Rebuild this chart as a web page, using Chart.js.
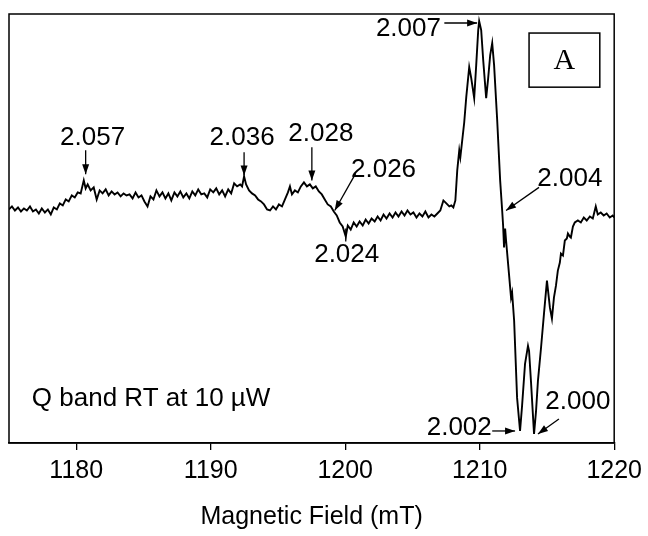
<!DOCTYPE html>
<html>
<head>
<meta charset="utf-8">
<script src="https://cdn.jsdelivr.net/npm/chart.js@4/dist/chart.umd.min.js"></script>
<style>
  html, body { margin: 0; padding: 0; background: #fff; }
  #wrap { width: 648px; height: 536px; }
</style>
</head>
<body>
<div id="wrap"><canvas id="eprChart"></canvas></div>
<script>
// magnetic field (mT) and derivative signal (arb. units)
const field = [
  1175.00, 1175.22, 1175.44, 1175.67, 1175.89, 1176.11, 1176.33, 1176.56, 1176.78, 1177.00,
  1177.22, 1177.44, 1177.67, 1177.89, 1178.11, 1178.33, 1178.56, 1178.78, 1179.00, 1179.22,
  1179.44, 1179.67, 1179.89, 1180.11, 1180.33, 1180.56, 1180.70, 1180.85, 1181.07, 1181.30,
  1181.52, 1181.74, 1181.96, 1182.19, 1182.41, 1182.63, 1182.85, 1183.07, 1183.30, 1183.52,
  1183.74, 1183.96, 1184.19, 1184.41, 1184.63, 1184.85, 1185.07, 1185.30, 1185.52, 1185.74,
  1185.96, 1186.19, 1186.41,
  1186.63, 1186.85, 1187.07, 1187.30, 1187.52, 1187.74, 1187.96, 1188.19, 1188.41, 1188.63,
  1188.85, 1189.07, 1189.30, 1189.52, 1189.74, 1189.96, 1190.19, 1190.41, 1190.63, 1190.85,
  1191.07, 1191.30, 1191.52, 1191.74, 1191.96, 1192.19, 1192.33, 1192.48, 1192.63, 1192.85,
  1193.07, 1193.30, 1193.52, 1193.74, 1193.96, 1194.19, 1194.41, 1194.63, 1194.85, 1195.07,
  1195.30, 1195.52, 1195.74, 1195.89, 1196.04, 1196.26, 1196.48, 1196.70, 1196.93, 1197.15,
  1197.37, 1197.59, 1197.81, 1198.04,
  1198.26, 1198.48, 1198.70, 1198.93, 1199.15, 1199.37, 1199.59, 1199.81, 1200.04, 1200.19,
  1200.41, 1200.63, 1200.85, 1201.07, 1201.30, 1201.52, 1201.74, 1201.96, 1202.19, 1202.41,
  1202.63, 1202.85, 1203.07, 1203.30, 1203.52, 1203.74, 1203.96, 1204.19, 1204.41, 1204.63,
  1204.85, 1205.07, 1205.30, 1205.52, 1205.74, 1205.96, 1206.19, 1206.41, 1206.63, 1206.85,
  1207.07, 1207.30, 1207.52, 1207.74, 1207.89,
  1208.04, 1208.19, 1208.33, 1208.48, 1208.56, 1208.70, 1208.85, 1209.00, 1209.22, 1209.37,
  1209.59, 1209.74, 1209.89, 1209.96, 1210.11, 1210.26, 1210.48, 1210.63, 1210.78, 1210.93,
  1211.07, 1211.30, 1211.52, 1211.67, 1211.74, 1211.81, 1211.89, 1211.96, 1212.11, 1212.33,
  1212.41, 1212.56, 1212.78, 1213.00, 1213.15, 1213.37, 1213.59, 1213.67, 1213.81, 1214.04,
  1214.19, 1214.33, 1214.56, 1214.78, 1215.00, 1215.22, 1215.37, 1215.52, 1215.67, 1215.81,
  1215.96, 1216.04, 1216.19, 1216.33, 1216.48, 1216.56, 1216.70, 1216.78, 1216.93, 1217.07,
  1217.30, 1217.52, 1217.74, 1217.96, 1218.19, 1218.41, 1218.63, 1218.78, 1219.00, 1219.22,
  1219.44, 1219.67, 1219.89, 1220.00
];
const signal = [
  1, 4, 0, 3, -1, 2, 0, 4, -1, 1,
  -3, 2, -2, 1, -4, 3, 1, 7, 5, 11,
  9, 15, 13, 18, 17, 30, 22, 26, 20, 23,
  11, 20, 17, 21, 15, 19, 16, 18, 14, 17,
  15, 16, 12, 18, 13, 15, 9, 4, 14, 11,
  20, 14, 18,
  12, 17, 10, 18, 14, 19, 13, 17, 12, 19,
  15, 21, 16, 17, 13, 21, 18, 22, 16, 20,
  14, 21, 17, 27, 24, 26, 24, 34, 26, 20,
  17, 15, 11, 9, 6, 1, 0, 4, 1, 6,
  4, 11, 18, 24, 16, 20, 18, 24, 28, 24,
  26, 22, 24, 19,
  16, 11, 6, 4, -1, -5, -12, -16, -26, -15,
  -19, -12, -16, -11, -15, -9, -13, -8, -11, -6,
  -10, -4, -8, -3, -7, -2, -6, -1, -5, 0,
  -4, -2, -7, -3, -6, -1, -7, -4, -6, -3,
  0, 10, 7, 4, 5,
  3, 10, 40, 60, 53, 70, 88, 113, 143, 132,
  112, 145, 180, 189, 180, 150, 112, 132, 155, 167,
  145, 90, 30, 0, -15, -37, -18, -30, -53, -87,
  -82, -110, -187, -220, -195, -153, -135, -140, -170, -223,
  -200, -170, -137, -103, -70, -97, -108, -87, -75, -60,
  -52, -43, -45, -30, -28, -23, -26, -27, -16, -12,
  -10, -12, -7, -10, -6, -8, 4, -4, -2, -5,
  -3, -7, -5, -7
];
const xTicks = [1180, 1190, 1200, 1210, 1220];

// g-value labels: text anchor and arrow (from -> to), all in data units
const peakLabels = [
  { text: '2.057', at: [1181.22, 72], from: [1180.70, 60], to: [1180.70, 36], head: true },
  { text: '2.036', at: [1192.33, 72], from: [1192.48, 58], to: [1192.48, 35], head: true },
  { text: '2.028', at: [1198.19, 76], from: [1197.52, 63], to: [1197.52, 30], head: true },
  { text: '2.026', at: [1202.85, 41], from: [1200.78, 37], to: [1199.22, 0], head: true },
  { text: '2.024', at: [1200.11, -44], from: [1200.04, -31], to: [1200.04, -18], head: false },
  { text: '2.007', at: [1204.70, 181], from: [1207.37, 187], to: [1209.81, 187], head: true },
  { text: '2.004', at: [1216.70, 32], from: [1214.41, 23], to: [1211.96, 0], head: true },
  { text: '2.002', at: [1208.48, -217], from: [1210.93, -220], to: [1212.63, -220], head: true },
  { text: '2.000', at: [1217.30, -191], from: [1215.89, -208], to: [1214.33, -223], head: true }
];

const FONT = "'Liberation Sans', Arial, sans-serif";

function drawArrow(ctx, x1, y1, x2, y2, head) {
    ctx.beginPath();
    ctx.moveTo(x1, y1);
    ctx.lineTo(x2, y2);
    ctx.stroke();
    if (!head) return;
    const a = Math.atan2(y2 - y1, x2 - x1);
    const len = 10, w = 3.5;
    ctx.beginPath();
    ctx.moveTo(x2, y2);
    ctx.lineTo(x2 - len * Math.cos(a) + w * Math.sin(a), y2 - len * Math.sin(a) - w * Math.cos(a));
    ctx.lineTo(x2 - len * Math.cos(a) - w * Math.sin(a), y2 - len * Math.sin(a) + w * Math.cos(a));
    ctx.closePath();
    ctx.fill();
}

const annotate = {
    id: 'annotate',
    afterDraw(chart) {
        const { ctx, chartArea: area, scales: { x, y } } = chart;
        ctx.save();
        ctx.strokeStyle = '#000';
        ctx.fillStyle = '#000';
        ctx.lineWidth = 1.5;
        ctx.strokeRect(area.left, area.top, area.right - area.left, area.bottom - area.top);

        ctx.font = '26px ' + FONT;
        ctx.textAlign = 'center';
        ctx.textBaseline = 'middle';
        ctx.lineWidth = 1.3;
        peakLabels.forEach(p => {
            ctx.fillText(p.text, x.getPixelForValue(p.at[0]), y.getPixelForValue(p.at[1]));
            drawArrow(ctx,
                x.getPixelForValue(p.from[0]), y.getPixelForValue(p.from[1]),
                x.getPixelForValue(p.to[0]), y.getPixelForValue(p.to[1]), p.head);
        });

        ctx.textAlign = 'left';
        ctx.fillText('Q band RT at 10 \u00b5W', x.getPixelForValue(1176.70), y.getPixelForValue(-188));

        // panel tag
        const bx1 = x.getPixelForValue(1213.67), bx2 = x.getPixelForValue(1218.93);
        const by1 = y.getPixelForValue(177), by2 = y.getPixelForValue(123);
        ctx.lineWidth = 1.5;
        ctx.strokeRect(bx1, by1, bx2 - bx1, by2 - by1);
        ctx.font = "30px 'Liberation Serif', 'Times New Roman', serif";
        ctx.textAlign = 'center';
        ctx.fillText('A', (bx1 + bx2) / 2, (by1 + by2) / 2 + 1);
        ctx.restore();
    }
};

const points = field.map((f, i) => ({ x: f, y: signal[i] }));

new Chart(document.getElementById('eprChart').getContext('2d'), {
    type: 'line',
    data: {
        datasets: [{
            data: points,
            borderColor: '#000',
            borderWidth: 1.9,
            pointRadius: 0,
            tension: 0,
            fill: false
        }]
    },
    options: {
        responsive: true, maintainAspectRatio: false, animation: false,
        layout: { padding: { left: 9, right: 31, top: 14, bottom: 0 } },
        plugins: { legend: { display: false }, tooltip: { enabled: false } },
        scales: {
            x: {
                type: 'linear', min: 1175, max: 1220,
                afterBuildTicks: axis => { axis.ticks = xTicks.map(v => ({ value: v })); },
                ticks: {
                    color: '#000', font: { family: FONT, size: 25 }, padding: 6, maxRotation: 0,
                    callback: v => String(v)
                },
                grid: { drawOnChartArea: false, drawTicks: true, tickLength: 7, color: '#000', lineWidth: 1.3 },
                border: { display: true, color: '#000', width: 1.5 },
                title: {
                    display: true, text: 'Magnetic Field (mT)', color: '#000',
                    font: { family: FONT, size: 25 }, padding: { top: 10, bottom: 4 }
                }
            },
            y: { display: false, min: -232, max: 196 }
        }
    },
    plugins: [annotate]
});
</script>
</body>
</html>
